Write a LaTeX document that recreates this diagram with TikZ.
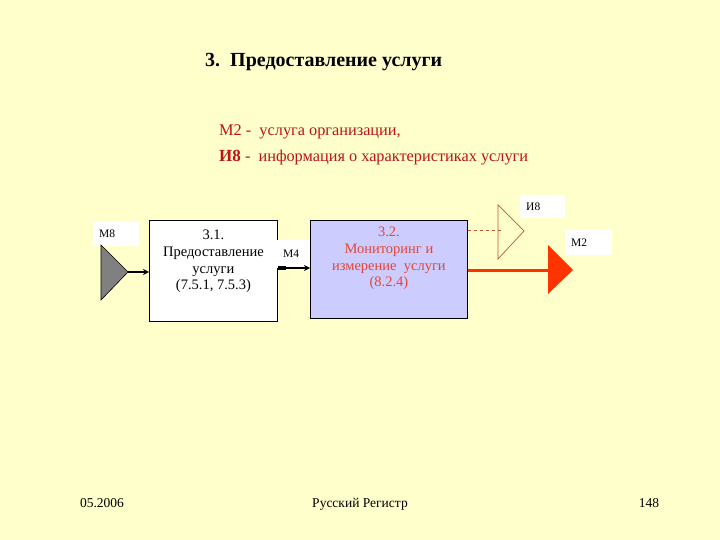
\documentclass[tikz,border=0pt]{standalone}
\usepackage{fontspec}
\setmainfont{Liberation Serif}
\usepackage{xcolor}
\usetikzlibrary{arrows.meta,positioning}
\definecolor{slidebg}{RGB}{255,255,204}
\definecolor{legred}{RGB}{190,20,20}
\definecolor{boxred}{RGB}{225,70,55}
\definecolor{lavender}{RGB}{204,204,255}
\definecolor{outbrown}{RGB}{190,90,50}
\definecolor{outred}{RGB}{255,51,0}

\begin{document}
\begin{tikzpicture}[
  x=1pt, y=-1pt, >={Stealth[length=6pt,width=6pt]},
  box/.style={draw, line width=0.8pt, anchor=north west},
  boxtxt/.style={align=center, anchor=north, inner sep=0pt,
                 font=\fontsize{14.5}{16.7}\selectfont},
  tag/.style={fill=white, anchor=north west, align=left, inner xsep=6pt,
              inner ysep=0pt, font=\fontsize{11.5}{13}\selectfont},
  legend/.style={anchor=base west, text=legred, inner sep=0pt,
                 font=\fontsize{16.3}{19}\selectfont},
  foot/.style={anchor=base, inner sep=0pt, font=\fontsize{13.5}{15}\selectfont}
]
\fill[slidebg] (0,0) rectangle (720,540);

% title and legend
\node[anchor=base west, inner sep=0pt, font=\fontsize{20}{23}\selectfont\bfseries]
  (title) at (205,67) {3.\ \ Предоставление услуги};
\node[legend] (leg1) at (219,136) {М2 -\ \ услуга организации,};
\node[legend] (leg2) at (219,162) {{\fontsize{17}{19}\selectfont\textbf{И8}} -\ \ информация о характеристиках услуги};

% process boxes
\node[box, fill=white, minimum width=128pt, minimum height=101pt] (box1) at (149,220) {};
\node[boxtxt] (txt1) at ([yshift=-10pt]box1.north) {3.1.\\Предоставление\\услуги\\(7.5.1, 7.5.3)};
\node[box, fill=lavender, minimum width=157pt, minimum height=98pt] (box2) at (310,220) {};
\node[boxtxt, text=boxred] (txt2) at ([yshift=-7pt]box2.north) {3.2.\\Мониторинг и\\измерение\ \ услуги\\(8.2.4)};

% labels
\node[tag, text width=34pt, minimum height=24pt] (m8) at (93,222) {М8};
\node[tag, text width=21pt, minimum height=28pt] (m4) at (277,240) {М4};
\node[tag, text width=33pt, minimum height=23pt] (i8) at (520,195) {И8};
\node[tag, text width=35pt, minimum height=25pt] (m2) at (565,230) {М2};

% input triangle
\coordinate (m8tip) at (128,272);
\filldraw[fill=gray, draw=black, line width=0.6pt]
  (101,245) -- (m8tip) -- (101,300) -- cycle;
\draw[->, line width=2.4pt] (m8tip) -- (m8tip -| box1.west);

% internal flow
\coordinate (m4out) at (box1.east |- 0,268);
\draw[line width=3.5pt] (m4out) -- ++(8,0);
\draw[->, line width=2.2pt] (m4out) -- (m4out -| box2.west);

% outputs
\coordinate (i8out) at (box2.east |- 0,230);
\coordinate (i8tip) at (524,231);
\draw[outbrown, dashed, line width=0.6pt] (i8out) -- (503,230);
\draw[outbrown, line width=0.7pt] (498,205) -- (i8tip) -- (498,259) -- cycle;
\coordinate (m2out) at (box2.east |- 0,270);
\coordinate (m2tip) at (573,270);
\draw[outred, line width=3pt] (m2out) -- (549,270);
\fill[outred] (548,245) -- (m2tip) -- (548,294) -- cycle;

% footer
\node[foot] (date) at (102,507) {05.2006};
\node[foot] (org) at (360,507) {Русский Регистр};
\node[foot] (page) at (649,507) {148};
\end{tikzpicture}
\end{document}
